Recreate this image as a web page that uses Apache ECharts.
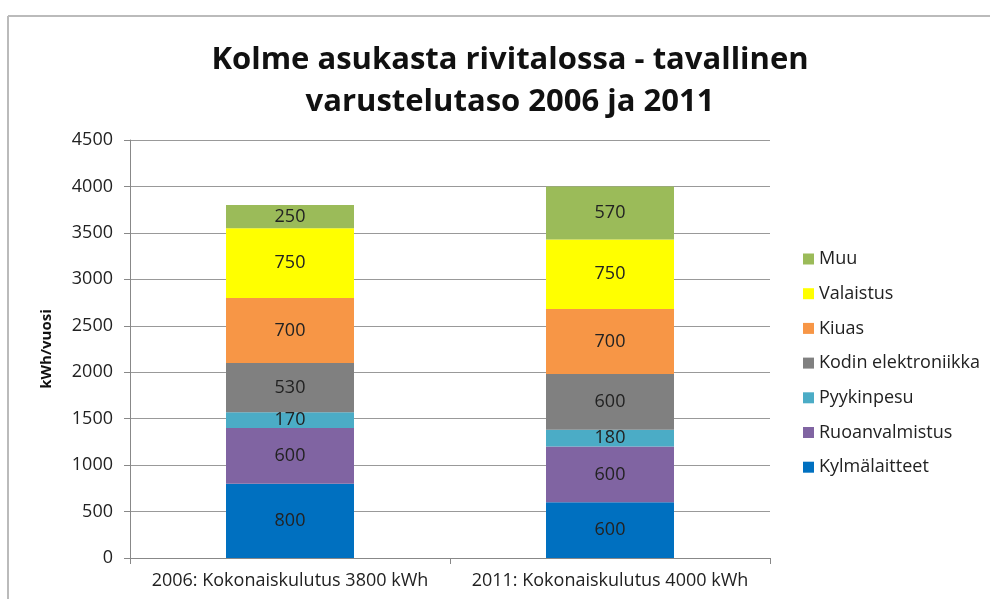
<!DOCTYPE html>
<html>
<head>
<meta charset="utf-8">
<script src="https://cdn.jsdelivr.net/npm/echarts@6/dist/echarts.min.js"></script>
<style>
  html, body { margin: 0; padding: 0; background: #fff; }
  #main { width: 990px; height: 599px; }
</style>
</head>
<body>
<div id="main"></div>
<script>
// kategoriat (x-akseli)
var categories = ['2006: Kokonaiskulutus 3800 kWh', '2011: Kokonaiskulutus 4000 kWh'];

// sarjat alhaalta ylös
var kylmalaitteet = [800, 600];
var ruoanvalmistus = [600, 600];
var pyykinpesu = [170, 180];
var elektroniikka = [530, 600];
var kiuas = [700, 700];
var valaistus = [750, 750];
var muu = [250, 570];

var seriesNames = ['Kylmälaitteet', 'Ruoanvalmistus', 'Pyykinpesu', 'Kodin elektroniikka', 'Kiuas', 'Valaistus', 'Muu'];
var seriesData = [kylmalaitteet, ruoanvalmistus, pyykinpesu, elektroniikka, kiuas, valaistus, muu];
var seriesColors = ['#0070C0', '#8064A2', '#4BACC6', '#808080', '#F79646', '#FFFF00', '#9BBB59'];

var fontMain = "'Open Sans', 'Noto Sans', sans-serif";

var chart = echarts.init(document.getElementById('main'));

var series = [];
for (var i = 0; i < seriesNames.length; i++) {
  series.push({
    name: seriesNames[i],
    type: 'bar',
    stack: 'yhteensa',
    barWidth: '40%',
    data: seriesData[i],
    itemStyle: { color: seriesColors[i] },
    label: {
      show: true,
      position: 'inside',
      color: '#222',
      fontSize: 18,
      fontFamily: fontMain
    }
  });
}

var option = {
  backgroundColor: '#fff',
  animation: false,
  title: {
    text: 'Kolme asukasta rivitalossa - tavallinen\nvarustelutaso 2006 ja 2011',
    left: 505,
    textAlign: 'center',
    top: 34,
    textStyle: {
      fontFamily: fontMain,
      fontWeight: 'bold',
      fontSize: 31,
      lineHeight: 42,
      color: '#111'
    }
  },
  legend: {
    orient: 'vertical',
    left: 798,
    top: 245,
    itemWidth: 11,
    itemHeight: 11,
    itemGap: 16.7,
    icon: 'rect',
    data: seriesNames.slice().reverse(),
    textStyle: { fontFamily: fontMain, fontSize: 18, color: '#222' }
  },
  grid: { left: 130, right: 220, top: 140, bottom: 41 },
  xAxis: {
    type: 'category',
    data: categories,
    axisLine: { lineStyle: { color: '#888', width: 1 } },
    axisTick: { show: true, length: 6, lineStyle: { color: '#888' } },
    axisLabel: { interval: 0, hideOverlap: false, fontFamily: fontMain, fontSize: 18, color: '#222', margin: 14 }
  },
  yAxis: {
    type: 'value',
    min: 0,
    max: 4500,
    interval: 500,
    name: 'kWh/vuosi',
    nameLocation: 'middle',
    nameGap: 76,
    nameRotate: 90,
    nameTextStyle: { fontFamily: fontMain, fontWeight: 'bold', fontSize: 15, color: '#111' },
    axisLine: { show: true, lineStyle: { color: '#888', width: 1 } },
    axisTick: { show: true, length: 6, lineStyle: { color: '#888' } },
    axisLabel: {
      fontFamily: fontMain, fontSize: 18, color: '#222', margin: 17,
      formatter: function (v) { return String(v); }
    },
    splitLine: { lineStyle: { color: '#999', width: 1 } }
  },
  graphic: [
    { type: 'line', shape: { x1: 8, y1: 16, x2: 990, y2: 16 }, style: { stroke: '#bbb', lineWidth: 2 } },
    { type: 'line', shape: { x1: 8, y1: 16, x2: 8, y2: 599 }, style: { stroke: '#bbb', lineWidth: 2 } }
  ],
  series: series
};

chart.setOption(option);
</script>
</body>
</html>
